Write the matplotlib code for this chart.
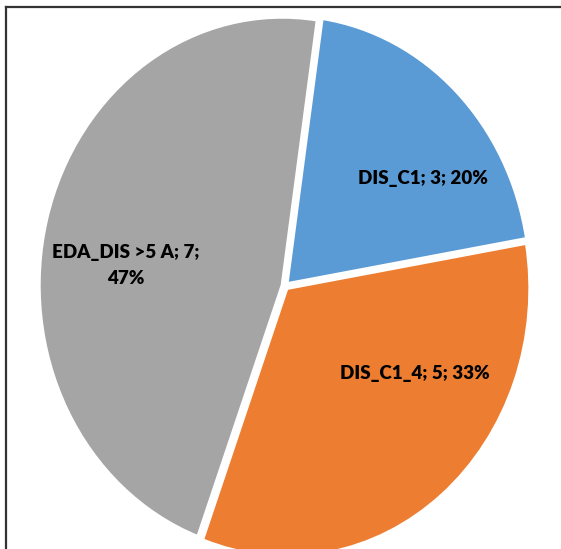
import matplotlib.pyplot as plt
from matplotlib.lines import Line2D

labels = ['DIS_C1', 'DIS_C1_4', 'EDA_DIS >5 A']
values = [3, 5, 7]
colors = ['#5B9BD5', '#ED7D31', '#A5A5A5']
label_text = ['DIS_C1; 3; 20%', 'DIS_C1_4; 5; 33%', 'EDA_DIS >5 A; 7;\n47%']
label_pos = [(0.568, 0.40), (0.535, -0.325), (-0.654, 0.078)]

plt.rcParams['font.family'] = ['Lato', 'DejaVu Sans']

fig = plt.figure(figsize=(5.61, 5.49), dpi=100)
ax = fig.add_axes([0, 0, 1, 1])

ax.pie(values, colors=colors, startangle=81.7, counterclock=False,
       explode=[0.012] * 3,
       wedgeprops=dict(edgecolor='white', linewidth=2.2))
ax.set_aspect('auto')
# pie is slightly stretched vertically in the original
ax.set_xlim(-285 / 243, (561 - 285) / 243)
ax.set_ylim(-(549 - 286) / 268, 286 / 268)

for txt, (x, y) in zip(label_text, label_pos):
    ax.text(x, y, txt, ha='center', va='center', fontsize=13.5,
            fontweight='heavy', color='black', linespacing=1.65)

# frame lines (top and left only visible)
fig.add_artist(Line2D([5.5 / 561, 1], [1 - 7 / 549, 1 - 7 / 549],
                      transform=fig.transFigure, color='#333333', lw=1.6))
fig.add_artist(Line2D([5.5 / 561, 5.5 / 561], [0, 1 - 7 / 549],
                      transform=fig.transFigure, color='#333333', lw=1.6))

fig.savefig('out.png', dpi=100)
